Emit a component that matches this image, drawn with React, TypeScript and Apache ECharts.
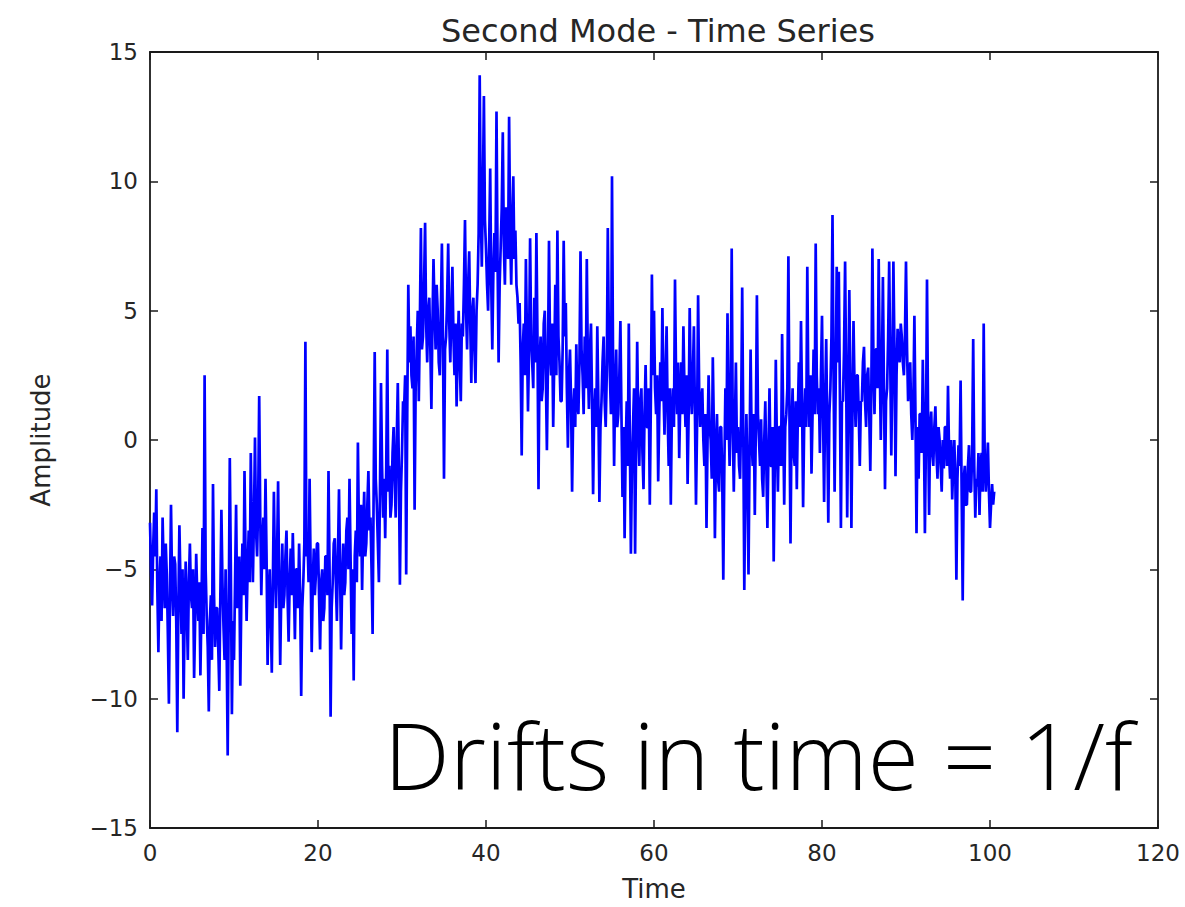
import React, { useEffect, useRef } from "react";
import * as echarts from "echarts";

const chartTitle = "Second Mode - Time Series";
const xAxisName = "Time";
const yAxisName = "Amplitude";
const annotation = "Drifts in time = 1/f";

// sampling interval of the series (time units)
const timeStep = 0.125;

// amplitude samples, 8 per time unit, t = 0 … 100.5
const amplitude: number[] = [
  -3.2, -5.0, -6.4, -4.2, -2.8, -4.5, -1.9, -5.8,
  -8.2, -5.5, -4.5, -7.0, -3.0, -5.0, -6.5, -4.0,
  -5.2, -7.5, -10.2, -6.0, -2.5, -5.5, -6.8, -4.5,
  -4.8, -7.0, -11.3, -6.5, -3.3, -5.5, -7.5, -5.0,
  -10.0, -6.8, -4.7, -6.5, -8.5, -5.5, -4.0, -6.0,
  -6.5, -5.0, -9.2, -7.0, -4.4, -6.0, -7.0, -5.5,
  -9.1, -6.5, -3.4, -7.5, 2.5, -5.0, -6.8, -8.0,
  -10.5, -7.0, -6.0, -8.5, -1.7, -6.0, -8.0, -6.5,
  -6.5, -8.0, -9.7, -6.0, -2.7, -5.5, -7.2, -8.5,
  -5.0, -8.0, -12.2, -6.5, -0.7, -5.0, -10.6, -7.0,
  -8.5, -5.5, -2.5, -6.5, -6.0, -4.5, -9.5, -6.0,
  -4.0, -6.0, -1.2, -4.5, -7.0, -5.0, -3.5, -5.5,
  -0.5, -3.5, -5.5, -3.0, 0.1, -3.5, -4.5, -2.5,
  1.7, -3.0, -6.0, -4.0, -3.0, -5.0, -1.5, -4.5,
  -8.7, -6.0, -5.0, -7.0, -9.0, -5.5, -2.0, -5.0,
  -6.5, -4.5, -1.6, -5.5, -8.7, -6.0, -4.0, -6.5,
  -6.0, -4.5, -3.5, -6.0, -7.8, -5.5, -4.2, -6.0,
  -3.6, -5.5, -7.7, -5.0, -5.0, -6.5, -4.0, -6.0,
  -9.9, -6.5, -5.5, -4.0, 3.8, -4.5, -3.8, -5.5,
  -1.5, -5.0, -8.2, -5.5, -4.2, -6.0, -5.2, -4.0,
  -4.0, -6.0, -8.1, -5.5, -5.0, -7.0, -6.5, -4.5,
  -4.5, -6.0, -1.2, -5.0, -10.7, -6.5, -5.5, -4.0,
  -3.8, -5.5, -7.0, -4.5, -1.9, -5.0, -8.1, -5.5,
  -4.0, -6.0, -5.5, -3.5, -3.0, -5.0, -1.5, -4.5,
  -7.5, -5.0, -9.3, -4.5, -3.5, -5.5, -0.1, -3.5,
  -4.5, -2.5, -5.8, -3.5, -2.0, -4.5, -4.0, -2.5,
  -1.2, -3.5, -3.0, -5.0, -7.5, -2.0, 3.4, -1.5,
  -2.5, -4.0, -5.5, -2.0, 2.2, -1.0, -3.0, -1.5,
  -3.8, -1.0, 3.5, -2.0, -1.0, -3.0, -2.5, -0.5,
  0.5, -1.5, -3.0, 0.0, 2.2, -1.0, -5.6, -2.0,
  -0.5, 1.5, 1.2, 2.5, -5.2, 1.0, 6.0, 3.0,
  4.4, 2.5, 2.0, 4.0, -2.7, 2.0, 3.5, 5.0,
  1.5, 4.5, 8.2, 3.5, 4.0, 6.0, 8.4, 4.5,
  3.0, 5.0, 5.5, 3.5, 1.2, 4.5, 7.0, 5.0,
  3.5, 6.0, 5.0, 3.0, 2.5, 5.0, 7.6, 4.0,
  -1.5, 3.5, 4.0, 5.5, 7.6, 4.5, 3.0, 5.0,
  6.7, 4.0, 2.5, 4.5, 1.3, 3.5, 5.0, 3.0,
  1.5, 4.5, 4.0, 6.0, 8.5, 5.0, 3.5, 6.0,
  7.3, 4.5, 2.2, 5.0, 5.5, 3.5, 2.2, 5.0,
  6.0, 8.0, 14.1, 9.0, 6.7, 9.5, 13.3, 8.5,
  7.4, 6.0, 5.0, 7.5, 10.5, 6.0, 3.5, 6.5,
  8.0, 6.5, 12.7, 7.0, 3.0, 6.0, 7.5, 9.0,
  11.9, 7.5, 6.0, 9.0, 8.5, 7.0, 12.5, 8.0,
  6.0, 8.5, 10.2, 7.0, 8.1, 6.0, 5.5, 4.5,
  5.3, 3.0, -0.6, 3.5, 4.5, 2.5, 7.0, 4.0,
  1.1, 3.5, 7.8, 4.0, 3.0, 2.0, 5.5, 3.0,
  8.0, 4.0, -1.9, 3.0, 4.0, 1.5, 2.0, 4.5,
  5.0, 2.5, -0.4, 3.0, 7.7, 3.5, 2.5, 4.5,
  0.5, 3.0, 6.0, 2.5, 8.1, 4.0, 3.0, 1.5,
  1.5, 3.5, 7.7, 4.0, 5.3, 2.0, -0.3, 2.5,
  3.5, 1.5, -2.0, 1.0, 2.0, 0.5, 3.7, 1.5,
  1.0, 3.0, 7.3, 3.5, 2.5, 1.0, 4.0, 2.0,
  7.0, 3.0, 1.2, 3.5, 4.5, 1.5, -2.1, 1.0,
  2.0, 0.5, 4.4, 1.5, -2.4, 0.5, 1.5, 3.0,
  4.0, 1.5, 0.5, 2.5, 8.2, 4.0, 2.5, 1.0,
  10.2, 3.0, -1.0, 2.0, 3.5, 0.5, 1.0, 2.5,
  4.6, 1.0, -2.2, 0.5, -3.8, -0.5, 1.5, -1.0,
  4.5, 0.0, -4.4, -1.0, 0.5, 2.0, -4.4, 0.0,
  3.8, 0.5, -1.0, 1.5, 2.0, -0.5, -1.9, 1.0,
  2.9, 0.5, 0.5, 2.0, -2.5, 1.5, 6.4, 2.5,
  5.0, 2.0, 1.0, 2.5, -1.6, 1.0, 3.0, 1.5,
  5.1, 2.0, 0.2, 2.5, 4.4, 1.0, -1.0, 2.0,
  -2.5, 1.0, 2.0, 0.5, 6.2, 2.5, 1.0, 3.0,
  -0.7, 1.5, 3.0, 1.0, 4.4, 2.0, 0.5, 2.5,
  -1.7, 1.0, 5.1, 2.0, 1.0, 2.5, 4.4, 1.0,
  -2.5, 0.5, 5.6, 2.0, 0.5, 1.5, 2.0, 0.0,
  -1.0, 1.0, -3.4, 0.0, 2.5, 0.5, 0.0, -1.5,
  3.2, 0.5, -3.8, -0.5, 1.0, -1.5, -2.0, 0.5,
  0.5, -1.5, -5.4, -1.0, 2.0, 0.0, 4.9, 1.0,
  -1.0, 1.5, 7.4, 0.5, -2.0, 0.5, 3.0, -0.5,
  0.5, -1.0, -1.5, 1.0, 5.9, 0.5, -5.8, -1.5,
  1.0, -1.5, -5.2, -0.5, 3.5, 0.0, -1.0, 1.0,
  -2.9, 0.5, 5.6, 1.0, 0.0, -1.0, 0.8, -1.5,
  -2.2, 0.0, 1.5, -1.0, -3.4, -0.5, 2.0, -1.0,
  -1.0, 0.5, -4.7, -1.0, 3.1, 0.0, -2.0, 0.5,
  0.5, -1.0, 4.1, 1.0, -2.5, 0.5, 1.0, 2.0,
  7.1, 1.0, -4.0, 0.5, 2.0, -0.5, -1.0, 1.5,
  -1.9, 1.0, 3.0, 0.5, 4.6, 1.5, -2.6, 0.5,
  2.0, 0.5, 6.7, 2.0, 0.5, 2.5, -1.3, 1.0,
  3.5, 1.0, 7.6, 2.5, 1.0, 2.0, -0.5, 2.5,
  4.8, 1.0, -2.4, 1.5, 3.9, 0.5, -3.2, 1.0,
  2.0, 4.0, 8.7, 2.5, -2.0, 2.0, 6.7, 3.0,
  6.5, 2.0, -3.4, 1.5, 1.5, 3.5, 6.9, 2.5,
  -3.0, 1.5, 5.8, 2.0, -3.4, 1.0, 4.6, 2.0,
  0.5, 2.5, 2.5, 1.0, -1.0, 1.5, 1.5, 3.0,
  3.6, 1.5, 0.5, 2.5, 2.8, 1.0, -1.2, 2.0,
  7.4, 3.0, 1.0, 3.5, 3.5, 2.0, 7.0, 3.0,
  0.0, 2.5, 6.3, 2.0, -1.9, 1.5, 2.0, 4.0,
  6.9, 3.0, -0.6, 2.5, 6.9, 3.5, -1.4, 2.5,
  4.3, 3.5, 3.0, 4.5, 4.0, 3.0, 2.5, 4.0,
  6.9, 3.5, 1.5, 2.5, 3.0, 1.0, 0.0, 1.5,
  4.8, 1.0, -3.6, 0.5, -1.5, 1.0, 1.0, -0.5,
  3.1, 0.5, -3.6, 0.0, 6.2, 1.0, -2.9, 0.5,
  1.1, -0.5, -1.0, 0.5, 1.3, -0.5, -1.5, 0.5,
  0.0, -1.0, -2.0, 0.0, -1.1, 0.5, 0.5, -1.0,
  2.1, -0.5, -1.5, 0.0, -2.3, -1.0, 0.0, -1.5,
  -5.4, -1.5, -0.2, -1.0, 2.3, -2.0, -6.2, -1.5,
  -1.0, -2.5, -2.5, -1.0, -0.2, -2.0, -2.0, -0.5,
  3.9, -1.0, -3.0, -1.5, -1.8, -0.5, -2.9, -1.0,
  -0.5, -2.0, 4.5, -1.0, -2.0, -1.0, -0.1, -2.0,
  -3.4, -2.5, -1.7, -2.5, -2.0,
];

const xMin = 0;
const xMax = 120;
const xInterval = 20;
const yMin = -15;
const yMax = 15;
const yInterval = 5;

const tickColor = "#262626";
const frameColor = "#1a1a1a";
const lineColor = "#0000ff";

const minusFmt = (v: number) => String(v).replace("-", "\u2212");

export default function App() {
  const ref = useRef<HTMLDivElement>(null);

  useEffect(() => {
    if (!ref.current) return;
    const chart = echarts.init(ref.current, undefined, { renderer: "svg" });
    const seriesData = amplitude.map((v, i) => [i * timeStep, v]);

    const labelFont = { fontFamily: "DejaVu Sans", fontSize: 23, color: tickColor };
    const axisLine = { show: true, onZero: false, lineStyle: { color: frameColor, width: 1.8 } };
    const axisTick = { show: true, inside: true, length: 8, lineStyle: { color: frameColor, width: 1.5 } };

    chart.setOption({
      animation: false,
      backgroundColor: "#ffffff",
      title: {
        text: chartTitle,
        left: 653,
        top: 10,
        textAlign: "center",
        textStyle: { fontFamily: "DejaVu Sans", fontSize: 32, fontWeight: "normal", color: tickColor },
      },
      grid: { left: 150, right: 27, top: 52, bottom: 75, containLabel: false },
      xAxis: [
        {
          type: "value",
          min: xMin,
          max: xMax,
          interval: xInterval,
          position: "bottom",
          name: xAxisName,
          nameLocation: "middle",
          nameGap: 48,
          nameTextStyle: { fontFamily: "DejaVu Sans", fontSize: 26, color: tickColor },
          axisLine,
          axisTick,
          axisLabel: { ...labelFont, margin: 13, formatter: minusFmt },
          splitLine: { show: false },
        },
        {
          type: "value",
          min: xMin,
          max: xMax,
          interval: xInterval,
          position: "top",
          axisLine,
          axisTick,
          axisLabel: { show: false },
          splitLine: { show: false },
        },
      ],
      yAxis: [
        {
          type: "value",
          min: yMin,
          max: yMax,
          interval: yInterval,
          position: "left",
          name: yAxisName,
          nameLocation: "middle",
          nameGap: 96,
          nameRotate: 90,
          nameTextStyle: { fontFamily: "DejaVu Sans", fontSize: 26, color: tickColor },
          axisLine,
          axisTick,
          axisLabel: { ...labelFont, margin: 12, formatter: minusFmt },
          splitLine: { show: false },
        },
        {
          type: "value",
          min: yMin,
          max: yMax,
          interval: yInterval,
          position: "right",
          axisLine,
          axisTick,
          axisLabel: { show: false },
          splitLine: { show: false },
        },
      ],
      graphic: [
        {
          type: "text",
          left: 384,
          top: 707,
          z: 100,
          style: {
            text: annotation,
            fontFamily: "Open Sans",
            fontWeight: 300,
            fontSize: 93,
            fill: "#000000",
          },
        },
      ],
      series: [
        {
          type: "line",
          xAxisIndex: 0,
          yAxisIndex: 0,
          data: seriesData,
          showSymbol: false,
          symbol: "none",
          lineStyle: { color: lineColor, width: 2.7 },
          z: 2,
        },
      ],
    });

    return () => chart.dispose();
  }, []);

  return (
    <div
      ref={ref}
      style={{ position: "fixed", left: 0, top: 0, width: 1185, height: 907 }}
    />
  );
}
